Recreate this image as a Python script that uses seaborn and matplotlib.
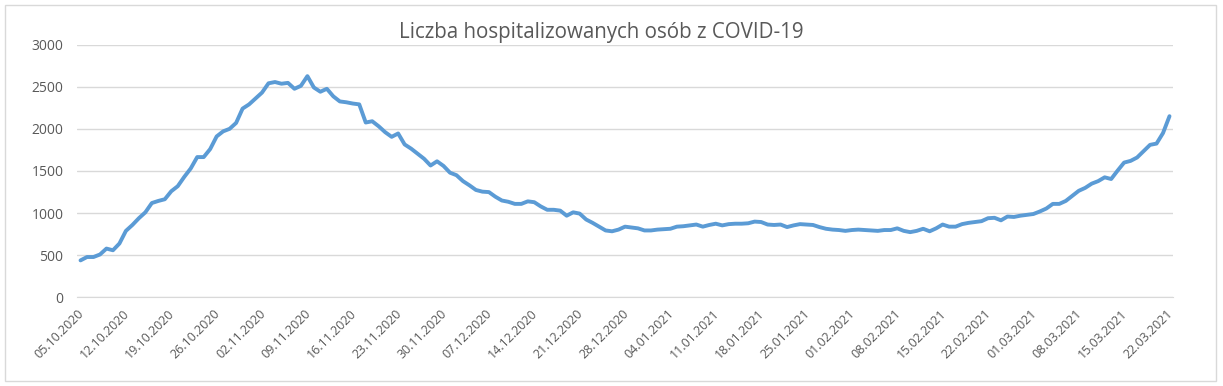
import pandas as pd
import seaborn as sns
import matplotlib.pyplot as plt
from matplotlib.patches import Rectangle

# Daily number of hospitalised COVID-19 patients, 05.10.2020 - 22.03.2021
start_date = "2020-10-05"
end_date = "2021-03-22"
hospitalized = [
    440, 480, 480, 510, 580, 560, 640, 790, 860, 940,
    1010, 1120, 1145, 1165, 1260, 1320, 1430, 1530, 1665, 1665,
    1760, 1910, 1970, 2000, 2070, 2240, 2290, 2360, 2430, 2540,
    2555, 2535, 2545, 2475, 2510, 2625, 2490, 2440, 2475, 2385,
    2325, 2315, 2300, 2290, 2075, 2090, 2030, 1960, 1905, 1945,
    1815, 1765, 1705, 1645, 1565, 1615, 1560, 1480, 1450, 1380,
    1330, 1275, 1255, 1250, 1195, 1150, 1135, 1110, 1110, 1140,
    1130, 1080, 1040, 1040, 1030, 970, 1010, 995, 925, 885,
    840, 795, 785, 805, 840, 830, 820, 795, 795, 805,
    810, 815, 840, 845, 855, 865, 840, 860, 875, 855,
    870, 875, 875, 880, 900, 895, 865, 860, 865, 835,
    855, 870, 865, 860, 835, 815, 805, 800, 790, 800,
    805, 800, 795, 790, 800, 800, 820, 790, 775, 790,
    815, 785, 820, 865, 840, 840, 870, 885, 895, 905,
    940, 945, 915, 960, 955, 970, 980, 990, 1020, 1055,
    1110, 1110, 1145, 1205, 1265, 1300, 1350, 1380, 1425, 1405,
    1505, 1600, 1620, 1660, 1735, 1810, 1825, 1950, 2150,
]
y_ticks = [0, 500, 1000, 1500, 2000, 2500, 3000]
title = "Liczba hospitalizowanych osób z COVID-19"

dates = pd.date_range(start_date, end_date, freq="D")
df = pd.DataFrame({"Data": dates, "Hospitalizowani": hospitalized})

sns.set_style("white")
plt.rcParams["font.family"] = ["Open Sans", "DejaVu Sans"]

fig = plt.figure(figsize=(12.23, 3.86), dpi=100)
ax = fig.add_axes([0.0632, 0.2293, 0.8957, 0.6554])

# outer chart border
fig.patches.append(Rectangle((0.004, 0.012), 0.99, 0.975, transform=fig.transFigure,
                             fill=False, edgecolor="#d9d9d9", linewidth=1))

sns.lineplot(data=df, x="Data", y="Hospitalizowani", ax=ax,
             color="#5B9BD5", linewidth=2.8)

half_day = pd.Timedelta(hours=12)
ax.set_xlim(dates[0] - half_day, dates[-1] + half_day)
ax.set_ylim(0, 3000)
ax.set_yticks(y_ticks)
ax.set_yticklabels([str(v) for v in y_ticks], color="#595959", fontsize=10)

tick_dates = dates[::7]
ax.set_xticks(tick_dates - half_day)
ax.set_xticklabels([d.strftime("%d.%m.%Y") for d in tick_dates],
                   rotation=45, ha="right", rotation_mode="anchor",
                   color="#595959", fontsize=9)

ax.grid(axis="y", color="#d9d9d9", linewidth=1)
ax.set_axisbelow(True)
for side in ["top", "right", "left"]:
    ax.spines[side].set_visible(False)
ax.spines["bottom"].set_color("#d9d9d9")
ax.tick_params(axis="x", length=5, color="#d9d9d9", pad=2)
ax.tick_params(axis="y", length=0, pad=10)
ax.set_xlabel("")
ax.set_ylabel("")

fig.text(0.492, 0.915, title, ha="center", va="center", fontsize=14.8, color="#595959")

fig.savefig("out.png", dpi=100)
